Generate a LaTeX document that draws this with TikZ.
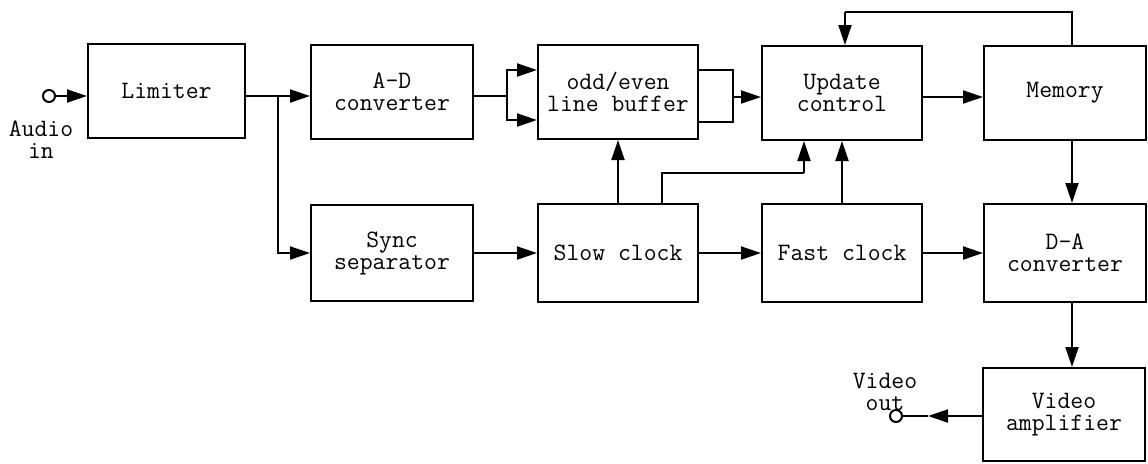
\documentclass[tikz,border=0pt]{standalone}
\usepackage{fontspec}
\usetikzlibrary{arrows.meta}
\begin{document}
\begin{tikzpicture}[x=0.5pt,y=-0.5pt,
  every node/.style={font=\ttfamily\fontsize{12.5}{11}\selectfont},
  box/.style={draw, line width=1pt, inner sep=0pt, minimum height=47pt, align=center},
  w1/.style={minimum width=78.5pt},
  w2/.style={minimum width=81pt},
  w3/.style={minimum width=80pt},
  conn/.style={line width=1pt},
  arr/.style={line width=1pt, -{Triangle[length=10pt,width=6.5pt]}},
  term/.style={circle, draw, line width=1pt, inner sep=0pt, minimum size=6pt},
  lbl/.style={align=center, inner sep=0pt}]
\useasboundingbox (0,0) rectangle (1148,463);
% row 1
\node[box,w1] (lim) at (166.5,91) {Limiter};
\node[box,w2] (ad) at (392,92) {A-D\\converter};
\node[box,w3] (ob) at (618,92) {odd/even\\line buffer};
\node[box,w3] (uc) at (842,93) {Update\\control};
\node[box,w2] (mem) at (1065,93) {Memory};
% row 2
\node[box,w2,minimum height=48pt] (ss) at (392,253) {Sync\\separator};
\node[box,w3,minimum height=49pt] (sc) at (618,253) {Slow clock};
\node[box,w3,minimum height=49pt] (fc) at (842,253) {Fast clock};
\node[box,w2,minimum height=49pt] (da) at (1065,253) {D-A\\converter};
% row 3
\node[box,w2,minimum height=46.5pt] (va) at (1064,414.5) {Video\\amplifier};
% terminals
\node[term] (ain) at (49,96) {};
\node[lbl] (ainl) at (41,140) {Audio\\in};
\node[term] (vout) at (896,416) {};
\node[lbl] (voutl) at (885,392) {Video\\out};
% connectors
\draw[arr] (ain) -- (lim.west |- ain);
\coordinate (b1) at (278,96);
\draw[conn] (lim.east |- b1) -- (b1);
\draw[arr] (b1) -- (ad.west |- b1);
\draw[arr] (b1) |- (ss.west);
\coordinate (b2) at (507,96);
\draw[conn] (ad.east |- b2) -- (b2);
\coordinate (obi1) at (ob.west |- 0,70);
\coordinate (obi2) at (ob.west |- 0,120);
\draw[arr] (b2) |- (obi1);
\draw[arr] (b2) |- (obi2);
\coordinate (obo1) at (ob.east |- 0,70);
\coordinate (obo2) at (ob.east |- 0,122);
\coordinate (j1) at (733,70);
\coordinate (j2) at (733,122);
\coordinate (j3) at (733,97);
\draw[conn] (obo1) -- (j1) -- (j2) -- (obo2);
\draw[arr] (j3) -- (uc.west |- j3);
\coordinate (um) at (uc.east |- 0,97);
\draw[arr] (um) -- (mem.west |- um);
\coordinate (m1) at ([xshift=3.5pt]mem.north);
\coordinate (m2) at (1072,12);
\coordinate (m3) at (845,12);
\coordinate (ucn) at (uc.north -| m3);
\draw[conn] (m1) -- (m2) -- (m3);
\draw[arr] (m3) -- (ucn);
\draw[arr] (ss) -- (sc);
\draw[arr] (sc) -- (fc);
\draw[arr] (fc) -- (da);
\draw[arr] (sc.north) -- (ob.south);
\coordinate (s1) at (sc.north -| 662,0);
\coordinate (s2) at (662,173);
\coordinate (s3) at (804,173);
\coordinate (ucs) at (uc.south -| s3);
\draw[conn] (s1) -- (s2) -- (s3);
\draw[arr] (s3) -- (ucs);
\draw[arr] (fc.north) -- (uc.south);
\draw[arr] ([xshift=3.5pt]mem.south) -- ([xshift=3.5pt]da.north);
\draw[arr] ([xshift=3.5pt]da.south) -- ([xshift=4pt]va.north);
\coordinate (vt) at (928,416);
\draw[arr] (va.west |- vt) -- (vt);
\draw[conn] (vt) -- (vout);
\end{tikzpicture}
\end{document}
